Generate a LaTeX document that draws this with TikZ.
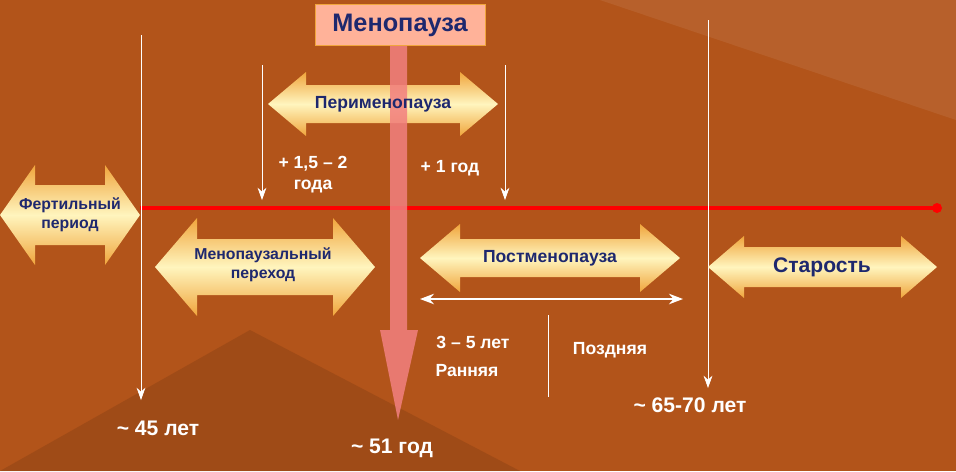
\documentclass[tikz,border=0pt]{standalone}
\usepackage{fontspec}
\setmainfont{Liberation Sans}
\usetikzlibrary{arrows.meta}
\definecolor{bgbrown}{RGB}{178,84,26}
\definecolor{darkblue}{RGB}{30,40,110}
\definecolor{pinkarrow}{RGB}{242,128,128}
\definecolor{yelloworange}{RGB}{240,165,60}
\definecolor{lightyellow}{RGB}{255,245,190}
% double arrow: x1, x2, y-mid, half body, half head, head length
\newcommand{\phasearrow}[6]{%
 \shade[top color=yelloworange,bottom color=yelloworange,middle color=lightyellow]
  (#1,#3) -- (#1+#6,#3-#5) -- (#1+#6,#3-#4) -- (#2-#6,#3-#4) -- (#2-#6,#3-#5)
  -- (#2,#3) -- (#2-#6,#3+#5) -- (#2-#6,#3+#4) -- (#1+#6,#3+#4) -- (#1+#6,#3+#5) -- cycle;}
\begin{document}
\begin{tikzpicture}[x=0.02cm,y=-0.02cm,font=\bfseries]
 \tikzstyle{phase}=[text=darkblue,align=center,font=\bfseries]
 \tikzstyle{marker}=[draw=white,thin,-{Stealth[length=7pt,width=5pt]}]
 \tikzstyle{label}=[text=white,align=center,font=\bfseries]
 \useasboundingbox (0,0) rectangle (956,471);
 \fill[bgbrown] (0,0) rectangle (956,471);
 \fill[bgbrown!70!black,opacity=0.35] (0,471) -- (250,330) -- (520,471) -- cycle;
 \fill[bgbrown!70!white,opacity=0.25] (600,0) -- (956,120) -- (956,0) -- cycle;
 % time axis
 \coordinate (a0) at (140,208);
 \coordinate (a1) at (937,208);
 \draw[red,line width=2.2pt] (a0) -- (a1);
 \fill[red] (a1) circle (5);
 % vertical markers
 \coordinate (t45a) at (141,35);   \coordinate (t45b) at (141,400);
 \coordinate (p1a) at (262,65);    \coordinate (p1b) at (262,200);
 \coordinate (p2a) at (505,65);    \coordinate (p2b) at (505,200);
 \coordinate (t65a) at (708,20);   \coordinate (t65b) at (708,388);
 \draw[marker] (t45a) -- (t45b);
 \draw[marker] (p1a) -- (p1b);
 \draw[marker] (p2a) -- (p2b);
 \draw[marker] (t65a) -- (t65b);
 \coordinate (s1) at (548,315);    \coordinate (s2) at (548,397);
 \draw[white,thin] (s1) -- (s2);
 % phases
 \phasearrow{0}{140}{215}{30}{50}{35}
 \phasearrow{268}{498}{104}{19}{32}{38}
 \phasearrow{155}{375}{267}{28}{49}{42}
 \phasearrow{420}{680}{258}{19}{34}{40}
 \phasearrow{708}{937}{267}{20}{31}{36}
 % menopause marker
 \fill[pinkarrow,opacity=0.85] (390,45) -- (390,330) -- (380,330) -- (398,420) -- (418,330)
   -- (407,330) -- (407,45) -- cycle;
 \node[draw=yelloworange,fill=pink!80!orange,text=darkblue,font=\bfseries\Large,
   minimum width=3.4cm,minimum height=0.82cm] (meno) at (400,25) {Менопауза};
 \node[phase,font=\bfseries\small] (fert) at (70,215) {Фертильный\\период};
 \node[phase] (peri) at (383,104) {Перименопауза};
 \node[phase,font=\bfseries\small] (trans) at (263,265) {Менопаузальный\\переход};
 \node[phase] (post) at (550,258) {Постменопауза};
 \node[phase,font=\bfseries\large] (old) at (822,267) {Старость};
 \coordinate (w1) at (420,299);    \coordinate (w2) at (683,299);
 \draw[white,thick,{Stealth[length=8pt,width=6pt]}-{Stealth[length=8pt,width=6pt]}] (w1) -- (w2);
 % labels
 \node[label] (l1) at (313,175) {+ 1,5 -- 2\\года};
 \node[label] (l2) at (450,168) {+ 1 год};
 \node[label] (l3) at (473,342) {3 -- 5 лет};
 \node[label] (l4) at (467,371) {Ранняя};
 \node[label] (l5) at (610,350) {Поздняя};
 \node[label,font=\bfseries\large] (l6) at (158,428) {\char`~\ 45 лет};
 \node[label,font=\bfseries\large] (l7) at (392,448) {\char`~\ 51 год};
 \node[label,font=\bfseries\large] (l8) at (690,405) {\char`~\ 65-70 лет};
\end{tikzpicture}
\end{document}
